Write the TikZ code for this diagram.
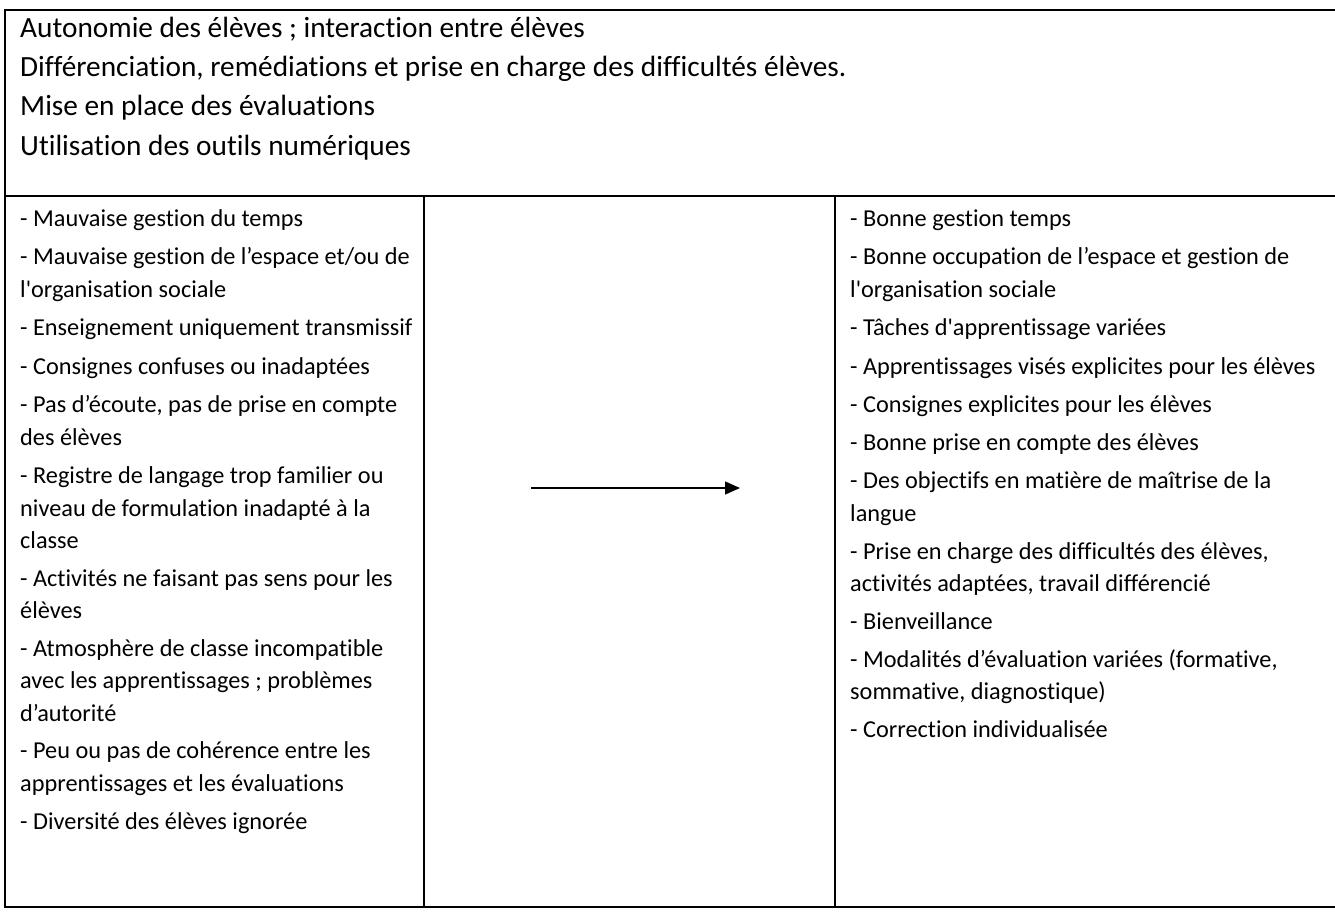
\documentclass[tikz,border=0pt]{standalone}
\usepackage{fontspec}
\setmainfont{Carlito}[Ligatures={NoCommon}]
\usetikzlibrary{arrows.meta}
\newcommand{\sq}{\textquotesingle}
\begin{document}
\begin{tikzpicture}[x=1pt,y=-1pt,
  frame/.style={line width=2pt},
  toptext/.style={anchor=base west, inner sep=0pt, font=\fontsize{29.3}{35}\selectfont},
  celltext/.style={anchor=base west, inner sep=0pt, font=\fontsize{24.3}{30}\selectfont},
  link/.style={line width=1.4pt, -{Triangle[length=15pt,width=13pt]}}]
\useasboundingbox (0,0) rectangle (1335,911);
% table frame
\draw[frame] (1340,10) -- (5,10) -- (5,907) -- (1340,907);
\draw[frame] (5,196) -- (1340,196);
\draw[frame] (424,196) -- (424,907);
\draw[frame] (835,196) -- (835,907);
% top cell
\node[toptext] (t1) at (20,37) {Autonomie des élèves ; interaction entre élèves};
\node[toptext] (t2) at (20,76) {Différenciation, remédiations et prise en charge des difficultés élèves.};
\node[toptext] (t3) at (20,115.5) {Mise en place des évaluations};
\node[toptext] (t4) at (20,155) {Utilisation des outils numériques};
% left column
\node[celltext] (l1) at (20,226) {- Mauvaise gestion du temps};
\node[celltext] (l2) at (20,264.5) {- Mauvaise gestion de l’espace et/ou de};
\node[celltext] (l3) at (20,297) {l\sq organisation sociale};
\node[celltext] (l4) at (20,335.5) {- Enseignement uniquement transmissif};
\node[celltext] (l5) at (20,374) {- Consignes confuses ou inadaptées};
\node[celltext] (l6) at (20,412.5) {- Pas d’écoute, pas de prise en compte};
\node[celltext] (l7) at (20,445) {des élèves};
\node[celltext] (l8) at (20,483.5) {- Registre de langage trop familier ou};
\node[celltext] (l9) at (20,516) {niveau de formulation inadapté à la};
\node[celltext] (l10) at (20,548.5) {classe};
\node[celltext] (l11) at (20,586) {- Activités ne faisant pas sens pour les};
\node[celltext] (l12) at (20,618.5) {élèves};
\node[celltext] (l13) at (20,656) {- Atmosphère de classe incompatible};
\node[celltext] (l14) at (20,688.5) {avec les apprentissages ; problèmes};
\node[celltext] (l15) at (20,721) {d’autorité};
\node[celltext] (l16) at (20,758.5) {- Peu ou pas de cohérence entre les};
\node[celltext] (l17) at (20,791) {apprentissages et les évaluations};
\node[celltext] (l18) at (20,829) {- Diversité des élèves ignorée};
% right column
\node[celltext] (r1) at (850,226) {- Bonne gestion temps};
\node[celltext] (r2) at (850,264.5) {- Bonne occupation de l’espace et gestion de};
\node[celltext] (r3) at (850,297) {l\sq organisation sociale};
\node[celltext] (r4) at (850,335.5) {- Tâches d\sq apprentissage variées};
\node[celltext] (r5) at (850,374) {- Apprentissages visés explicites pour les élèves};
\node[celltext] (r6) at (850,412.5) {- Consignes explicites pour les élèves};
\node[celltext] (r7) at (850,450.5) {- Bonne prise en compte des élèves};
\node[celltext] (r8) at (850,488.5) {- Des objectifs en matière de maîtrise de la};
\node[celltext] (r9) at (850,521) {langue};
\node[celltext] (r10) at (850,559) {- Prise en charge des difficultés des élèves,};
\node[celltext] (r11) at (850,591) {activités adaptées, travail différencié};
\node[celltext] (r12) at (850,629) {- Bienveillance};
\node[celltext] (r13) at (850,667) {- Modalités d’évaluation variées (formative,};
\node[celltext] (r14) at (850,699) {sommative, diagnostique)};
\node[celltext] (r15) at (850,737) {- Correction individualisée};
% arrow
\coordinate (a1) at (531,488);
\coordinate (a2) at (740,488);
\draw[link] (a1) -- (a2);
\end{tikzpicture}
\end{document}
